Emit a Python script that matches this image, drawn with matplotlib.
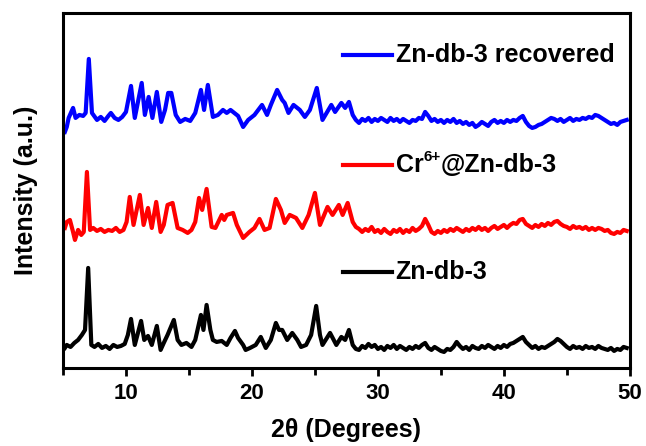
import matplotlib
matplotlib.use("Agg")
import matplotlib.pyplot as plt
from matplotlib.ticker import MultipleLocator, NullLocator

plt.rcParams['font.family'] = ['Liberation Sans', 'DejaVu Sans']
plt.rcParams['font.weight'] = 'bold'

# ---- data (2theta, intensity a.u. incl. vertical offset) ----
# peak region, read point by point
zn_x = [5.15, 5.3, 5.6, 5.9, 6.2, 6.5, 6.75, 7.0, 7.25, 7.5, 7.8, 8.1, 8.4, 8.7, 9.0, 9.3, 9.6, 9.9,
        10.15, 10.4, 10.7, 11.2, 11.45, 11.75, 12.05, 12.45, 12.75, 13.0, 13.3, 13.8, 14.1, 14.4,
        14.8, 15.2, 15.5, 15.95, 16.15, 16.4, 16.7, 16.9, 17.2, 17.6, 18.0, 18.3, 18.65, 18.9,
        19.3, 19.5, 19.85, 20.3, 20.7, 21.1, 21.5, 21.9, 22.15, 22.4, 22.8, 23.2, 23.6, 23.9,
        24.3, 24.7, 25.1, 25.4, 25.6, 26.2, 26.7, 27.1, 27.4, 27.7]
zn_y = [20, 23, 21, 25, 28, 33, 38, 100, 23, 21, 24, 20, 22, 19, 23, 21, 22, 24,
        33, 49, 23, 47, 28, 32, 23, 42, 18, 25, 33, 48, 28, 23,
        25, 21, 28, 53, 38, 63, 38, 28, 26, 27, 23, 30, 37, 30,
        23, 18, 20, 23, 31, 20, 28, 45, 38, 38, 28, 35, 28, 21,
        23, 33, 62, 33, 23, 35, 23, 31, 28, 38]

cr_x = [5.15, 5.3, 5.55, 5.8, 5.95, 6.2, 6.45, 6.65, 6.9, 7.15, 7.4, 7.7, 8.0, 8.3, 8.6, 8.9, 9.2,
        9.5, 9.8, 10.05, 10.3, 10.6, 11.1, 11.4, 11.75, 12.05, 12.4, 12.75, 13.0, 13.3, 13.7,
        14.1, 14.5, 14.9, 15.2, 15.5, 15.8, 16.05, 16.4, 16.8, 17.1, 17.6, 17.8, 18.0, 18.5,
        18.8, 19.3, 19.8, 20.2, 20.6, 21.0, 21.4, 21.9, 22.3, 22.6, 23.0, 23.5, 24.0, 24.5,
        25.0, 25.4, 26.0, 26.4, 26.9, 27.2, 27.6]
cr_y = [140, 146, 148, 136, 128, 138, 133, 136, 196, 138, 140, 137, 139, 136, 138, 137, 140,
        136, 138, 146, 171, 143, 173, 143, 160, 140, 166, 136, 143, 163, 165,
        140, 138, 135, 138, 146, 170, 158, 179, 141, 140, 153, 148, 153, 155,
        143, 130, 136, 140, 149, 138, 140, 169, 158, 145, 153, 150, 140, 153,
        175, 143, 161, 153, 163, 153, 165]

rec_x = [5.15, 5.3, 5.45, 5.8, 6.0, 6.3, 6.6, 6.8, 7.05, 7.3, 7.7, 8.0, 8.3, 8.6, 8.8, 9.1, 9.4,
         9.7, 10.0, 10.4, 10.7, 11.25, 11.5, 11.8, 12.1, 12.45, 12.8, 13.1, 13.35, 13.6, 13.95,
         14.3, 14.7, 15.1, 15.5, 15.95, 16.2, 16.5, 16.9, 17.3, 17.7, 18.0, 18.3, 18.6, 18.9,
         19.3, 19.7, 20.2, 20.8, 21.2, 21.5, 22.0, 22.4, 22.6, 22.9, 23.3, 23.8, 24.2, 24.6,
         25.15, 25.6, 26.3, 26.6, 27.1, 27.4, 27.7]
rec_y = [236, 241, 250, 260, 250, 253, 252, 255, 309, 255, 248, 251, 247, 252, 255, 250, 248,
         251, 256, 282, 250, 285, 253, 271, 250, 276, 246, 258, 275, 275, 253,
         246, 249, 247, 255, 278, 258, 283, 251, 253, 258, 255, 258, 255, 252,
         241, 248, 253, 263, 253, 263, 278, 268, 265, 255, 263, 258, 251, 258,
         280, 248, 263, 256, 265, 260, 266]

# high-angle region, read every 0.25 degree
tail_x = [28.0, 28.25, 28.5, 28.75, 29.0, 29.25, 29.5, 29.75,
          30.0, 30.25, 30.5, 30.75, 31.0, 31.25, 31.5, 31.75,
          32.0, 32.25, 32.5, 32.75, 33.0, 33.25, 33.5, 33.75,
          34.0, 34.25, 34.5, 34.75, 35.0, 35.25, 35.5, 35.75,
          36.0, 36.25, 36.5, 36.75, 37.0, 37.25, 37.5, 37.75,
          38.0, 38.25, 38.5, 38.75, 39.0, 39.25, 39.5, 39.75,
          40.0, 40.25, 40.5, 40.75, 41.0, 41.25, 41.5, 41.75,
          42.0, 42.25, 42.5, 42.75, 43.0, 43.25, 43.5, 43.75,
          44.0, 44.25, 44.5, 44.75, 45.0, 45.25, 45.5, 45.75,
          46.0, 46.25, 46.5, 46.75, 47.0, 47.25, 47.5, 47.75,
          48.0, 48.25, 48.5, 48.75, 49.0, 49.25, 49.5, 49.75]
zn_tail = [23, 19, 18, 22, 20, 24, 21, 23,
           19, 21, 18, 22, 20, 23, 19, 22,
           20, 18, 21, 19, 22, 20, 23, 25,
           20, 18, 21, 19, 17, 16, 19, 18,
           21, 26, 22, 19, 21, 18, 22, 20,
           19, 22, 20, 23, 21, 19, 22, 20,
           23, 21, 24, 25, 27, 29, 31, 26,
           23, 20, 22, 19, 21, 20, 22, 24,
           26, 29, 27, 24, 21, 19, 22, 20,
           21, 19, 22, 20, 21, 19, 22, 20,
           19, 18, 20, 17, 19, 18, 21, 20]
cr_tail = [146, 141, 139, 136, 139, 137, 141, 136,
           138, 135, 139, 136, 134, 138, 136, 139,
           135, 138, 136, 140, 137, 139, 142, 149,
           143, 136, 134, 137, 135, 138, 136, 139,
           137, 140, 138, 136, 139, 137, 140, 138,
           141, 138, 140, 137, 140, 142, 139, 141,
           143, 140, 143, 145, 144, 148, 149, 144,
           142, 140, 143, 141, 144, 142, 145, 143,
           146, 147, 144, 142, 141, 139, 142, 140,
           141, 139, 141, 138, 140, 138, 140, 139,
           137, 138, 135, 134, 136, 135, 138, 137]
rec_tail = [253, 248, 245, 249, 247, 250, 246, 249,
            247, 250, 248, 246, 250, 247, 249, 246,
            249, 247, 245, 248, 247, 250, 249, 256,
            252, 247, 249, 246, 248, 245, 248, 246,
            249, 245, 247, 244, 246, 243, 245, 241,
            243, 246, 244, 242, 246, 248, 245, 247,
            245, 248, 246, 248, 247, 250, 252, 246,
            242, 240, 241, 243, 244, 246, 248, 250,
            249, 247, 249, 246, 248, 250, 247, 249,
            248, 250, 249, 251, 250, 253, 252, 250,
            248, 246, 244, 245, 243, 246, 247, 248]

labels = ["Zn-db-3", "Cr", "Zn-db-3 recovered"]
sup_text = "6+"
after_text = "@Zn-db-3"
colors = ["black", "#ff0000", "#0000ff"]
label_y = [96, 203, 313]

fig = plt.figure(figsize=(6.46, 4.46), dpi=100)
ax = fig.add_axes([0.0975, 0.175, 0.8775, 0.796])

series = [(zn_x + tail_x, zn_y + zn_tail, colors[0]),
          (cr_x + tail_x, cr_y + cr_tail, colors[1]),
          (rec_x + tail_x, rec_y + rec_tail, colors[2])]
for xs, ys, c in series:
    ax.plot(xs, ys, color=c, lw=3.0, solid_joinstyle='round')

for i, (lab, c, ly) in enumerate(zip(labels, colors, label_y)):
    ax.plot([27.2, 31.1], [ly, ly], color=c, lw=3.0)
    t = ax.text(31.4, ly, lab, color='black', fontsize=18, fontweight='bold',
                va='center', ha='left')
    if i == 1:
        s = ax.annotate(sup_text, xy=(1.0, 0.55), xycoords=t, fontsize=11,
                        fontweight='bold', va='bottom', ha='left')
        ax.annotate(after_text, xy=(1.0, 0.0), xycoords=(s, t), fontsize=18,
                    fontweight='bold', va='bottom', ha='left')

ax.set_xlim(5, 50)
ax.set_ylim(0, 355)
ax.xaxis.set_major_locator(MultipleLocator(10))
ax.xaxis.set_minor_locator(MultipleLocator(5))
ax.yaxis.set_major_locator(NullLocator())
ax.tick_params(axis='x', which='major', direction='out', length=6, width=2,
               labelsize=16, pad=5)
ax.tick_params(axis='x', which='minor', direction='out', length=5, width=2)
for lbl in ax.get_xticklabels():
    lbl.set_fontweight('bold')
for s in ax.spines.values():
    s.set_linewidth(2.2)

ax.set_xlabel("2θ (Degrees)", fontsize=18, fontweight='bold', labelpad=10)
ax.set_ylabel("Intensity (a.u.)", fontsize=18, fontweight='bold', labelpad=18)

fig.savefig("out.png", dpi=100)
